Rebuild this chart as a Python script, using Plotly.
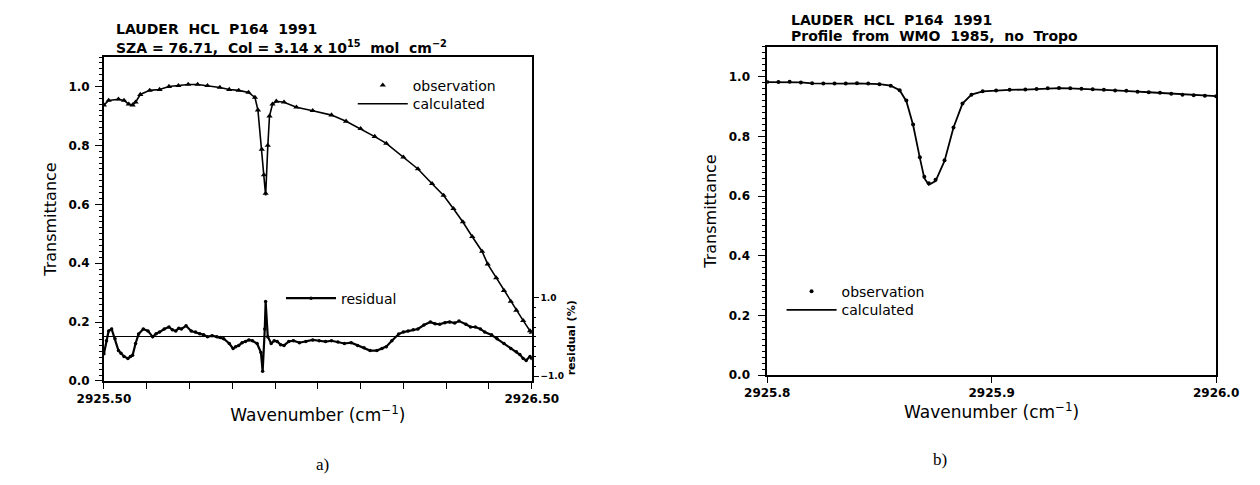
import plotly.graph_objects as go

# ---------------- data: panel a ----------------
wn_a = [2925.500, 2925.511, 2925.534, 2925.547, 2925.558, 2925.567, 2925.574, 2925.585,
        2925.607, 2925.630, 2925.652, 2925.674, 2925.697, 2925.719, 2925.742, 2925.771,
        2925.793, 2925.815, 2925.838, 2925.853, 2925.860, 2925.869, 2925.874, 2925.878,
        2925.883, 2925.887, 2925.894, 2925.903, 2925.921, 2925.950, 2925.988, 2926.032,
        2926.066, 2926.100, 2926.133, 2926.160, 2926.200, 2926.234, 2926.267, 2926.294,
        2926.317, 2926.339, 2926.361, 2926.384, 2926.397, 2926.417, 2926.435, 2926.451,
        2926.464, 2926.480, 2926.496, 2926.500]
obs_a = [0.937, 0.953, 0.957, 0.953, 0.940, 0.937, 0.947, 0.973,
         0.987, 0.990, 1.000, 1.003, 1.007, 1.007, 1.003, 0.997,
         0.990, 0.987, 0.980, 0.963, 0.920, 0.787, 0.700, 0.637,
         0.800, 0.900, 0.940, 0.950, 0.947, 0.930, 0.918, 0.903,
         0.882, 0.857, 0.830, 0.807, 0.760, 0.720, 0.670, 0.630,
         0.585, 0.540, 0.490, 0.440, 0.397, 0.350, 0.307, 0.270,
         0.240, 0.205, 0.170, 0.165]
calc_a = [0.937, 0.953, 0.957, 0.953, 0.940, 0.937, 0.947, 0.973,
          0.987, 0.990, 1.000, 1.003, 1.007, 1.007, 1.003, 0.997,
          0.990, 0.987, 0.980, 0.963, 0.920, 0.787, 0.690, 0.630,
          0.795, 0.900, 0.940, 0.950, 0.947, 0.930, 0.918, 0.903,
          0.882, 0.857, 0.830, 0.807, 0.760, 0.720, 0.670, 0.630,
          0.585, 0.540, 0.490, 0.440, 0.397, 0.350, 0.307, 0.270,
          0.240, 0.205, 0.170, 0.165]

res_wn = [2925.500, 2925.506, 2925.511, 2925.518, 2925.526, 2925.534, 2925.540, 2925.547,
          2925.556, 2925.562, 2925.567, 2925.574, 2925.581, 2925.592, 2925.603, 2925.614,
          2925.622, 2925.630, 2925.641, 2925.652, 2925.660, 2925.668, 2925.675, 2925.681,
          2925.692, 2925.704, 2925.714, 2925.724, 2925.733, 2925.742, 2925.753, 2925.764,
          2925.772, 2925.780, 2925.793, 2925.802, 2925.808, 2925.815, 2925.823, 2925.831,
          2925.839, 2925.847, 2925.858, 2925.867, 2925.871, 2925.876, 2925.878, 2925.883,
          2925.891, 2925.898, 2925.905, 2925.913, 2925.921, 2925.932, 2925.943, 2925.957,
          2925.972, 2925.988, 2926.003, 2926.018, 2926.032, 2926.047, 2926.062, 2926.078,
          2926.093, 2926.108, 2926.122, 2926.138, 2926.150, 2926.160, 2926.173, 2926.189,
          2926.200, 2926.211, 2926.223, 2926.234, 2926.248, 2926.263, 2926.274, 2926.285,
          2926.297, 2926.308, 2926.320, 2926.330, 2926.346, 2926.357, 2926.368, 2926.380,
          2926.390, 2926.406, 2926.419, 2926.435, 2926.451, 2926.464, 2926.472, 2926.480,
          2926.487, 2926.496, 2926.500]
res_a = [-0.43, -0.10, 0.15, 0.20, -0.05, -0.35, -0.42, -0.50,
         -0.55, -0.50, -0.47, -0.17, 0.07, 0.20, 0.15, 0.00,
         0.08, 0.12, 0.20, 0.25, 0.18, 0.15, 0.22, 0.20,
         0.28, 0.15, 0.12, 0.08, 0.05, 0.00, 0.03, 0.00,
         -0.02, -0.05, -0.17, -0.30, -0.25, -0.22, -0.15, -0.12,
         -0.08, -0.10, -0.17, -0.40, -0.88, 0.20, 0.90, 0.00,
         -0.17, -0.10, -0.12, -0.20, -0.22, -0.12, -0.10, -0.15,
         -0.12, -0.08, -0.10, -0.12, -0.10, -0.13, -0.17, -0.15,
         -0.22, -0.28, -0.35, -0.35, -0.30, -0.25, -0.10, 0.07,
         0.12, 0.15, 0.18, 0.20, 0.30, 0.38, 0.33, 0.32,
         0.36, 0.38, 0.35, 0.40, 0.32, 0.25, 0.25, 0.20,
         0.12, 0.05, -0.05, -0.17, -0.30, -0.38, -0.45, -0.55,
         -0.60, -0.50, -0.55]

# ---------------- data: panel b ----------------
wn_b = [2925.800, 2925.805, 2925.810, 2925.815, 2925.820, 2925.825, 2925.830, 2925.835,
        2925.840, 2925.845, 2925.850, 2925.855, 2925.859, 2925.862, 2925.865, 2925.868,
        2925.870, 2925.872, 2925.875, 2925.879, 2925.883, 2925.887, 2925.891, 2925.896,
        2925.902, 2925.908, 2925.915, 2925.920, 2925.925, 2925.930, 2925.935, 2925.940,
        2925.945, 2925.950, 2925.955, 2925.960, 2925.965, 2925.970, 2925.975, 2925.980,
        2925.985, 2925.990, 2925.995, 2926.000]
obs_b = [0.982, 0.982, 0.983, 0.981, 0.978, 0.977, 0.977, 0.977,
         0.978, 0.977, 0.975, 0.970, 0.955, 0.920, 0.840, 0.730,
         0.665, 0.643, 0.655, 0.720, 0.830, 0.910, 0.940, 0.951,
         0.954, 0.956, 0.957, 0.959, 0.961, 0.962, 0.961, 0.960,
         0.958, 0.956, 0.954, 0.953, 0.950, 0.948, 0.946, 0.943,
         0.940, 0.938, 0.936, 0.935]
calc_b = [0.982, 0.982, 0.983, 0.981, 0.978, 0.977, 0.977, 0.977,
          0.978, 0.977, 0.975, 0.970, 0.955, 0.918, 0.838, 0.728,
          0.660, 0.638, 0.650, 0.718, 0.830, 0.910, 0.940, 0.951,
          0.954, 0.956, 0.957, 0.959, 0.961, 0.962, 0.961, 0.960,
          0.958, 0.956, 0.954, 0.953, 0.950, 0.948, 0.946, 0.943,
          0.940, 0.938, 0.936, 0.935]

# ---------------- tick labels ----------------
a_xtickvals = [2925.5, 2926.5]
a_xticktext = ["2925.50", "2926.50"]
b_xtickvals = [2925.8, 2925.9, 2926.0]
b_xticktext = ["2925.8", "2925.9", "2926.0"]
ytickvals = [0.0, 0.2, 0.4, 0.6, 0.8, 1.0]
yticktext = ["0.0", "0.2", "0.4", "0.6", "0.8", "1.0"]
res_tickvals = [-1.0, 1.0]
res_ticktext = ["\u22121.0", "1.0"]

W, H = 1260, 485
FONT = "DejaVu Sans"


def fx(p):
    return p / W


def fy(p):
    return 1 - p / H


fig = go.Figure()

# panel a
fig.add_trace(go.Scatter(x=wn_a, y=calc_a, mode="lines", name="calculated",
                         line=dict(color="black", width=1.6),
                         xaxis="x", yaxis="y", legend="legend4"))
fig.add_trace(go.Scatter(x=wn_a, y=obs_a, mode="markers", name="observation",
                         marker=dict(symbol="triangle-up", size=5.5, color="black"),
                         xaxis="x", yaxis="y", legend="legend"))
fig.add_trace(go.Scatter(x=res_wn, y=res_a, mode="lines+markers", name="residual",
                         line=dict(color="black", width=2.2),
                         marker=dict(symbol="circle", size=3.5, color="black"),
                         xaxis="x", yaxis="y3", legend="legend2"))
# panel b
fig.add_trace(go.Scatter(x=wn_b, y=calc_b, mode="lines", name="calculated",
                         line=dict(color="black", width=1.8),
                         xaxis="x2", yaxis="y2", legend="legend5"))
fig.add_trace(go.Scatter(x=wn_b, y=obs_b, mode="markers", name="observation",
                         marker=dict(symbol="circle", size=4, color="black"),
                         xaxis="x2", yaxis="y2", legend="legend3"))

axis_common = dict(showline=True, linecolor="black", linewidth=1.6, mirror=True,
                   showgrid=False, zeroline=False, ticks="outside", tickcolor="black",
                   tickwidth=1.3)
tickfont = dict(family=FONT, size=12, color="black", weight="bold")
xtitlefont = dict(family=FONT, size=17, color="black")
ytitlefont = dict(family=FONT, size=16, color="black")
legfont = dict(family=FONT, size=14, color="black")


def leg(xp, yp):
    return dict(x=fx(xp), y=fy(yp), xanchor="left", yanchor="middle", itemwidth=50,
                bgcolor="rgba(0,0,0,0)", font=legfont, borderwidth=0)


fig.update_layout(
    width=W, height=H,
    margin=dict(l=0, r=0, t=0, b=0),
    paper_bgcolor="white", plot_bgcolor="rgba(0,0,0,0)",
    font=dict(family=FONT, color="black"),
    xaxis=dict(domain=[fx(72), fx(519)], range=[2925.5, 2926.5], anchor="y",
               tickvals=a_xtickvals, ticktext=a_xticktext, ticklen=6, tickfont=tickfont,
               minor=dict(dtick=0.1, tick0=2925.5, ticklen=6, ticks="outside",
                          tickcolor="black", tickwidth=1.3),
               title=dict(text="Wavenumber (cm<sup>\u22121</sup>)", font=xtitlefont, standoff=4),
               **axis_common),
    yaxis=dict(domain=[fy(378), fy(48)], range=[0, 1.1], anchor="x",
               tickvals=ytickvals, ticktext=yticktext, ticklen=7, tickfont=tickfont,
               ticklabelstandoff=3,
               minor=dict(dtick=0.02, ticklen=3, ticks="outside", tickcolor="black", tickwidth=1),
               title=dict(text="Transmittance", font=ytitlefont, standoff=8),
               **axis_common),
    yaxis3=dict(domain=[fy(378), fy(290)], range=[-1.125, 1.075], anchor="x", side="right",
                showline=False, showgrid=False, ticks="outside", tickcolor="black", tickwidth=1.2,
                tickvals=res_tickvals, ticktext=res_ticktext, ticklen=6,
                tickfont=dict(family=FONT, size=9, color="black", weight="bold"),
                minor=dict(dtick=0.25, ticklen=3, ticks="outside", tickcolor="black", tickwidth=1),
                zeroline=True, zerolinecolor="black", zerolinewidth=1.3,
                title=dict(text="residual (%)", font=dict(family=FONT, size=11, color="black", weight="bold"),
                           standoff=4)),
    xaxis2=dict(domain=[fx(765), fx(1234)], range=[2925.8, 2926.0], anchor="y2",
                tickvals=b_xtickvals, ticktext=b_xticktext, ticklen=6, tickfont=tickfont,
                title=dict(text="Wavenumber (cm<sup>\u22121</sup>)", font=xtitlefont, standoff=1),
                **axis_common),
    yaxis2=dict(domain=[fy(372), fy(37.6)], range=[0, 1.1], anchor="x2",
                tickvals=ytickvals, ticktext=yticktext, ticklen=7, tickfont=tickfont,
                ticklabelstandoff=6,
                minor=dict(dtick=0.02, ticklen=3, ticks="outside", tickcolor="black", tickwidth=1),
                title=dict(text="Transmittance", font=ytitlefont, standoff=8),
                **axis_common),
    legend=leg(332, 77),
    legend4=leg(332, 96),
    legend2=leg(257, 294),
    legend3=leg(780, 287),
    legend5=leg(780, 306),
    showlegend=True,
)

ann_font = dict(family=FONT, size=14, color="black", weight="bold")
fig.add_annotation(text="LAUDER  HCL  P164  1991", x=fx(83), y=fy(19), xref="paper", yref="paper",
                   xanchor="left", yanchor="middle", showarrow=False, font=ann_font)
fig.add_annotation(text="SZA = 76.71,  Col = 3.14 x 10<sup>15</sup>  mol  cm<sup>\u22122</sup>",
                   x=fx(83), y=fy(38), xref="paper", yref="paper",
                   xanchor="left", yanchor="middle", showarrow=False, font=ann_font)
fig.add_annotation(text="LAUDER  HCL  P164  1991", x=fx(788), y=fy(10), xref="paper", yref="paper",
                   xanchor="left", yanchor="middle", showarrow=False, font=ann_font)
fig.add_annotation(text="Profile  from  WMO  1985,  no  Tropo", x=fx(788), y=fy(27), xref="paper",
                   yref="paper", xanchor="left", yanchor="middle", showarrow=False, font=ann_font)
fig.add_annotation(text="a)", x=fx(291), y=fy(475), xref="paper", yref="paper",
                   showarrow=False, font=dict(family="Liberation Serif", size=17, color="black"))
fig.add_annotation(text="b)", x=fx(955), y=fy(470), xref="paper", yref="paper",
                   showarrow=False, font=dict(family="Liberation Serif", size=17, color="black"))

fig.write_html("out.html")
